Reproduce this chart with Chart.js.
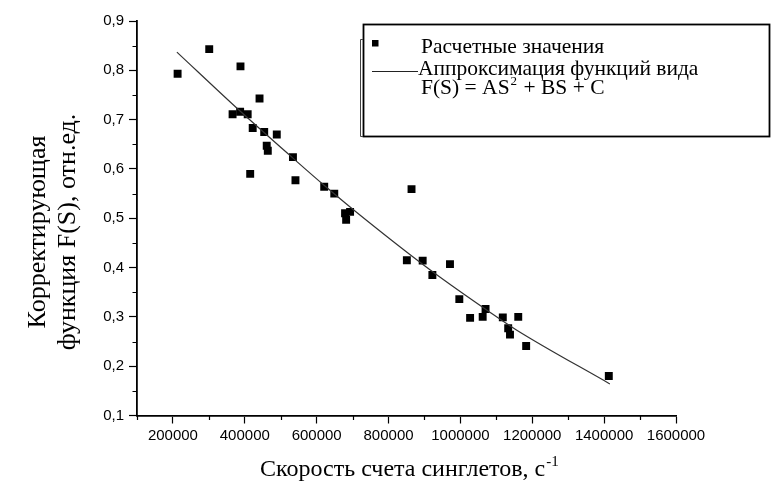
<!DOCTYPE html>
<html>
<head>
<meta charset="utf-8">
<title>Корректирующая функция F(S)</title>
<script src="https://cdn.jsdelivr.net/npm/chart.js"></script>
<style>
  html, body { margin: 0; padding: 0; background: #fff; }
</style>
</head>
<body>
<canvas id="fsChart" width="773" height="486"></canvas>
<script>
// расчетные значения: скорость счета синглетов S, c^-1 и F(S), отн.ед.
var rateS = [213000, 301000, 388000, 441000, 366000, 387000, 408000, 422000, 454000, 489000,
             461000, 464000, 534000, 415000, 541000, 621000, 649000, 679000, 693000, 682000,
             864000, 851000, 895000, 922000, 971000, 997000, 1027000, 1062000, 1070000, 1118000,
             1161000, 1133000, 1138000, 1183000, 1413000];
var corrF = [0.793, 0.843, 0.808, 0.743, 0.711, 0.716, 0.711, 0.683, 0.675, 0.670,
             0.647, 0.637, 0.624, 0.590, 0.577, 0.564, 0.550, 0.510, 0.513, 0.497,
             0.559, 0.415, 0.414, 0.385, 0.407, 0.336, 0.298, 0.300, 0.316, 0.299,
             0.300, 0.277, 0.264, 0.241, 0.180];

var fitS = [211000, 386000, 534000, 619000, 735000, 920000, 1083000, 1157000, 1416000];
var fitF = [0.837, 0.718, 0.622, 0.568, 0.498, 0.393, 0.309, 0.273, 0.164];

var xTickValues = [200000, 400000, 600000, 800000, 1000000, 1200000, 1400000, 1600000];
var yTickValues = [0.1, 0.2, 0.3, 0.4, 0.5, 0.6, 0.7, 0.8, 0.9];

var legendLabels = ['Расчетные значения', 'Аппроксимация функций вида'];
var yTitle = ['Корректирующая', 'функция F(S), отн.ед.'];
var xTitle = 'Скорость счета синглетов, с';

var X_MIN = 100000, X_MAX = 1600000, X_MINOR = 100000;
var Y_MIN = 0.1, Y_MAX = 0.9, Y_MINOR = 0.05;

var serif = '"Liberation Serif", "Times New Roman", serif';

// text with optional superscript parts
function richText(ctx, parts, x, y, size) {
  var cx = x;
  parts.forEach(function(p) {
    if (p.sup) {
      ctx.font = Math.round(size * 0.62) + 'px ' + serif;
      ctx.fillText(p.t, cx + 1, y - size * 0.42);
    } else {
      ctx.font = size + 'px ' + serif;
      ctx.fillText(p.t, cx, y);
    }
    cx += ctx.measureText(p.t).width + (p.sup ? 2 : 0);
  });
}

var extras = {
  id: 'extras',
  afterDraw: function(chart) {
    var ctx = chart.ctx, xs = chart.scales.x, ys = chart.scales.y, area = chart.chartArea;
    ctx.save();

    // minor ticks, between the labelled ones
    ctx.strokeStyle = '#000';
    ctx.lineWidth = 1.2;
    ctx.beginPath();
    for (var v = X_MIN; v <= X_MAX; v += X_MINOR) {
      if (xTickValues.indexOf(v) >= 0) continue;
      var px = Math.round(xs.getPixelForValue(v)) + 0.5;
      ctx.moveTo(px, area.bottom);
      ctx.lineTo(px, area.bottom + 4.5);
    }
    for (var i = 1; i < 16; i += 2) {
      var py = Math.round(ys.getPixelForValue(Y_MIN + i * Y_MINOR)) + 0.5;
      ctx.moveTo(area.left, py);
      ctx.lineTo(area.left - 4.5, py);
    }
    ctx.stroke();

    // axis titles
    ctx.fillStyle = '#000';
    ctx.textBaseline = 'alphabetic';
    ctx.textAlign = 'left';
    richText(ctx, [{t: xTitle}, {t: '-1', sup: true}], 260, 476, 24);

    ctx.textAlign = 'center';
    ctx.textBaseline = 'middle';
    ctx.font = '26px ' + serif;
    [38, 68].forEach(function(cx, k) {
      ctx.save();
      ctx.translate(cx, 232);
      ctx.rotate(-Math.PI / 2);
      ctx.fillText(yTitle[k], 0, 0);
      ctx.restore();
    });

    // legend
    ctx.strokeStyle = '#000';
    ctx.lineWidth = 1.8;
    ctx.strokeRect(363.5, 24.5, 406, 112);
    ctx.lineWidth = 1;
    ctx.strokeStyle = '#444';
    ctx.beginPath();
    ctx.moveTo(363, 39.5); ctx.lineTo(360.5, 39.5); ctx.lineTo(360.5, 136.5); ctx.lineTo(363, 136.5);
    ctx.stroke();

    ctx.fillStyle = '#000';
    ctx.fillRect(372, 40, 6.5, 6.5);
    ctx.strokeStyle = '#222';
    ctx.lineWidth = 1.2;
    ctx.beginPath();
    ctx.moveTo(372, 71.5); ctx.lineTo(418, 71.5);
    ctx.stroke();

    ctx.textAlign = 'left';
    ctx.textBaseline = 'alphabetic';
    ctx.font = '21.5px ' + serif;
    ctx.fillText(legendLabels[0], 421, 53);
    ctx.fillText(legendLabels[1], 418, 75);
    richText(ctx, [{t: 'F(S) = AS'}, {t: '2', sup: true}, {t: ' + BS + C'}], 421, 94, 21.5);

    ctx.restore();
  }
};

var tickFont = { family: '"Liberation Sans", Arial, sans-serif', size: 15 };

new Chart(document.getElementById('fsChart'), {
  type: 'scatter',
  data: {
    datasets: [{
      label: legendLabels[0],
      data: rateS.map(function(s, i) { return { x: s, y: corrF[i] }; }),
      pointStyle: 'rect',
      pointRadius: 5.6,
      pointBorderWidth: 0,
      backgroundColor: '#000',
      borderColor: '#000',
      order: 1
    }, {
      label: legendLabels[1],
      data: fitS.map(function(s, i) { return { x: s, y: fitF[i] }; }),
      showLine: true,
      cubicInterpolationMode: 'monotone',
      pointRadius: 0,
      borderColor: '#333',
      borderWidth: 1.2,
      order: 0
    }]
  },
  options: {
    responsive: false,
    animation: false,
    devicePixelRatio: 1,
    layout: { padding: { top: 21, right: 97, left: 0, bottom: 0 } },
    plugins: { legend: { display: false }, tooltip: { enabled: false } },
    scales: {
      x: {
        type: 'linear',
        min: X_MIN, max: X_MAX,
        afterBuildTicks: function(scale) {
          scale.ticks = xTickValues.map(function(v) { return { value: v }; });
        },
        afterFit: function(scale) { scale.height = 70.5; },
        ticks: {
          color: '#000',
          font: tickFont,
          padding: 3,
          maxRotation: 0,
          autoSkip: false,
          callback: function(v) { return String(v); }
        },
        grid: { drawOnChartArea: false, tickLength: 8, tickColor: '#000', tickWidth: 1.2 },
        border: { color: '#000', width: 1.8 }
      },
      y: {
        min: Y_MIN, max: Y_MAX,
        afterBuildTicks: function(scale) {
          scale.ticks = yTickValues.map(function(v) { return { value: v }; });
        },
        afterFit: function(scale) { scale.width = 137; },
        ticks: {
          color: '#000',
          font: tickFont,
          padding: 5,
          autoSkip: false,
          callback: function(v) { return v.toFixed(1).replace('.', ','); }
        },
        grid: { drawOnChartArea: false, tickLength: 8, tickColor: '#000', tickWidth: 1.2 },
        border: { color: '#000', width: 1.8 }
      }
    }
  },
  plugins: [extras]
});
</script>
</body>
</html>
